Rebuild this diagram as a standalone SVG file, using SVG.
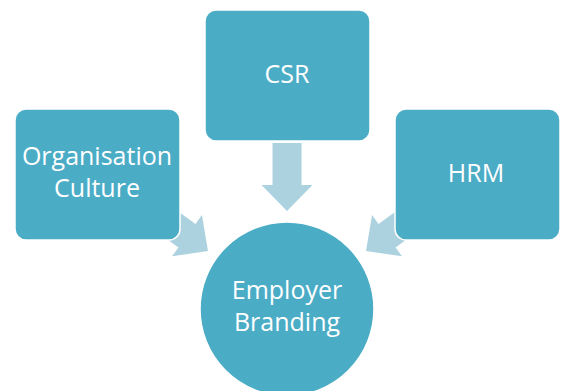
<svg xmlns="http://www.w3.org/2000/svg" width="563" height="391" viewBox="0 0 563 391">
<defs>
<style>
.node{fill:#4BACC6;stroke:#ffffff;stroke-width:1.5}
.arrow{fill:#ADD2DF}
.lbl{fill:#ffffff;font-family:"Open Sans","Liberation Sans",sans-serif;font-size:25px;text-anchor:middle}
</style>
<path id="arr" d="M0,-14.5 L42,-14.5 L42,-25.5 L68,0 L42,25.5 L42,14.5 L0,14.5 Z"/>
</defs>
<rect width="563" height="391" fill="#ffffff"/>
<g id="connectors" class="arrow">
<use href="#arr" transform="translate(208,251) rotate(36) translate(-68,0)"/>
<use href="#arr" transform="translate(287,211) rotate(90) translate(-68,0)"/>
<use href="#arr" transform="translate(366,251) rotate(144) translate(-68,0)"/>
</g>
<g id="org-culture">
<rect class="node" x="15" y="109" width="165" height="131" rx="11"/>
<text class="lbl" x="97" y="165">Organisation</text>
<text class="lbl" x="97" y="197">Culture</text>
</g>
<g id="csr">
<rect class="node" x="205" y="10" width="165" height="131" rx="11"/>
<text class="lbl" x="287" y="83">CSR</text>
</g>
<g id="hrm">
<rect class="node" x="395" y="109" width="165" height="131" rx="11"/>
<text class="lbl" x="476" y="182">HRM</text>
</g>
<g id="employer-branding">
<circle class="node" cx="287" cy="309" r="87"/>
<text class="lbl" x="287" y="299">Employer</text>
<text class="lbl" x="287" y="331">Branding</text>
</g>
</svg>
